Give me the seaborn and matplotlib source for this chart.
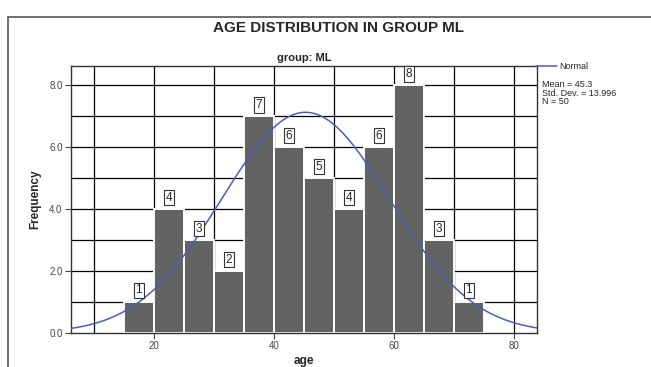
import numpy as np
import pandas as pd
import matplotlib.pyplot as plt
import seaborn as sns
from matplotlib.patches import Rectangle

sns.set_theme(style="white")
plt.rcParams['font.family'] = ['Liberation Sans', 'DejaVu Sans']

# histogram bins (age, width 5) and counts
bin_edges = [15, 20, 25, 30, 35, 40, 45, 50, 55, 60, 65, 70, 75]
counts = [1, 4, 3, 2, 7, 6, 5, 4, 6, 8, 3, 1]
mean_age = 45.3
std_age = 13.996
n_total = 50

x_ticks = [20, 40, 60, 80]
y_ticks = [0, 2, 4, 6, 8]

bin_mids = [(a + b) / 2 for a, b in zip(bin_edges[:-1], bin_edges[1:])]
df = pd.DataFrame({"age": bin_mids, "count": counts})

fig = plt.figure(figsize=(6.51, 3.67), dpi=100)
ax = fig.add_axes([0.109, 0.093, 0.716, 0.727])

# grid behind bars
for gx in range(10, 90, 10):
    ax.axvline(gx, color="black", linewidth=0.9, zorder=0)
for gy in range(1, 9):
    ax.axhline(gy, color="black", linewidth=0.9, zorder=0)

sns.histplot(data=df, x="age", weights="count", bins=bin_edges, ax=ax,
             color="#636363", alpha=1, edgecolor="white", linewidth=1.4, zorder=2)

# fitted normal curve
xs = np.linspace(6.2, 83.9, 300)
ys = n_total * 5 / (std_age * np.sqrt(2 * np.pi)) * np.exp(-0.5 * ((xs - mean_age) / std_age) ** 2)
sns.lineplot(x=xs, y=ys, ax=ax, color="#4a5fb5", linewidth=1.1, zorder=3)

# boxed count labels
for m, c in zip(bin_mids, counts):
    ax.text(m, c + 0.37, str(c), ha="center", va="center", fontsize=8.5, zorder=4,
            bbox=dict(boxstyle="square,pad=0.15", facecolor="white", edgecolor="#333333", linewidth=0.8))

ax.set_xlim(6.2, 83.9)
ax.set_ylim(0, 8.62)
ax.set_xticks(x_ticks)
ax.set_yticks(y_ticks)
ax.set_yticklabels([f"{v:.1f}" for v in y_ticks])
ax.tick_params(axis="both", labelsize=7, colors="#444444", length=4, width=0.8,
               direction="out", bottom=True, left=True, pad=2)
for s in ax.spines.values():
    s.set_color("#333333")
    s.set_linewidth(1.0)

ax.set_xlabel("age", fontsize=8.5, fontweight="bold", labelpad=3)
ax.set_ylabel("Frequency", fontsize=8.5, fontweight="bold", labelpad=6)
ax.set_title("group: ML", fontsize=8, fontweight="bold", pad=4)

fig.text(0.52, 0.925, "AGE DISTRIBUTION IN GROUP ML", ha="center", va="center",
         fontsize=11, fontweight="bold")

# legend-like annotations on the right
fig.add_artist(plt.Line2D([0.824, 0.856], [0.82, 0.82], color="#4a5fb5", linewidth=1.1))
fig.text(0.859, 0.82, "Normal", fontsize=6.5, va="center")
fig.text(0.832, 0.782, f"Mean = {mean_age}\nStd. Dev. = {std_age:.3f}\nN = {n_total}",
         fontsize=6.5, va="top", linespacing=0.95)

# outer frame
fig.add_artist(Rectangle((0.012, -0.05), 1.1, 1.005, transform=fig.transFigure,
                         fill=False, edgecolor="#555555", linewidth=1.2))

fig.savefig("out.png", dpi=100)
